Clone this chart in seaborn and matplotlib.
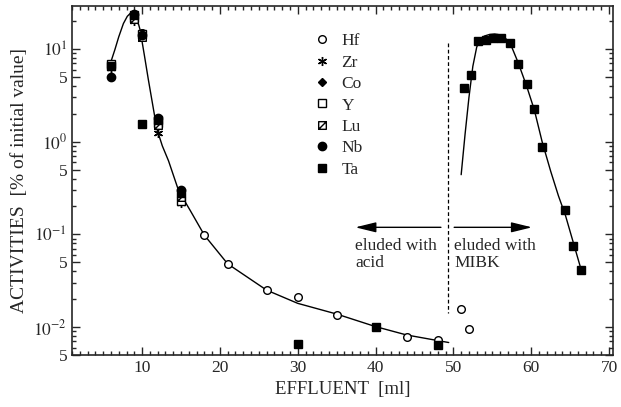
import numpy as np
import pandas as pd
import matplotlib
matplotlib.use("Agg")
import matplotlib.pyplot as plt
from matplotlib.path import Path
from matplotlib.ticker import FixedLocator, MultipleLocator, NullFormatter
import seaborn as sns

# acid fraction (x in ml)
x_acid = [6, 9, 10, 12, 15]
hf = [6.9, 22, 15, 1.6, 0.25]
zr = [6.3, 20, 14, 1.25, 0.22]
co = [6.6, 23, 15, 1.75, 0.29]
y_el = [6.8, 21.5, 14.5, 1.6, 0.23]
lu = [6.5, 21, 13.5, 1.5, 0.25]
nb = [5.0, 24, 14, 1.8, 0.30]
ta = [6.6, 23, 1.55, 1.7, 0.28]

# Hf tail
hf_x2 = [18, 21, 26, 30, 35, 44, 48, 51, 52]
hf_y2 = [0.098, 0.048, 0.025, 0.021, 0.0135, 0.0078, 0.0072, 0.0156, 0.0096]

# Ta tail + MIBK fraction
ta_x2 = [30, 40, 48, 51.3, 52.3, 53.2, 54.2, 55.1, 56.1, 57.3, 58.3, 59.4, 60.4, 61.4, 64.4, 65.4, 66.4]
ta_y2 = [0.0066, 0.0101, 0.0064, 3.75, 5.3, 12.2, 12.4, 13.0, 13.0, 11.7, 6.9, 4.2, 2.24, 0.88, 0.183, 0.074, 0.041]

# curves
curve1_x = [6.0, 6.5, 7.0, 7.6, 8.1, 8.5, 8.9, 9.3, 9.75, 10.3, 10.8, 11.4, 11.9, 12.6, 13.4, 14.7, 16.2, 18, 21, 26, 30, 35, 40, 44, 49.4]
curve1_y = [7.3, 9.8, 13.5, 18.8, 22.5, 24.3, 25.5, 22, 16, 8.5, 4.7, 2.4, 1.37, 0.9, 0.62, 0.295, 0.18, 0.098, 0.048, 0.025, 0.018, 0.0138, 0.0101, 0.0082, 0.0068]
curve2_x = [51.0, 51.5, 52.0, 52.5, 53.0, 53.5, 54.0, 54.6, 55.3, 56.0, 56.7, 57.3, 58.3, 59.4, 60.4, 61.4, 62.5, 63.5, 64.4, 65.4, 66.4]
curve2_y = [0.44, 1.2, 3.0, 6.5, 10.5, 12.8, 13.8, 14.3, 14.5, 14.2, 13.0, 11.5, 7.2, 4.0, 2.2, 1.0, 0.48, 0.26, 0.16, 0.082, 0.042]

ytick_vals = [5e-3, 1e-2, 5e-2, 1e-1, 0.5, 1, 5, 10]
ytick_labels = ['5', '$10^{-2}$', '5', '$10^{-1}$', '5', '$10^{0}$', '5', '$10^{1}$']

sns.set_style("ticks")
plt.rcParams['font.family'] = ['Liberation Serif', 'DejaVu Serif']
plt.rcParams['mathtext.fontset'] = 'stix'

fig = plt.figure(figsize=(6.21, 4.07), dpi=100)
ax = fig.add_axes([0.116, 0.128, 0.871, 0.857])

c1 = pd.DataFrame({'x': curve1_x, 'y': curve1_y})
c2 = pd.DataFrame({'x': curve2_x, 'y': curve2_y})
sns.lineplot(data=c1, x='x', y='y', color='black', lw=1, sort=False, estimator=None, ax=ax)
sns.lineplot(data=c2, x='x', y='y', color='black', lw=1, sort=False, estimator=None, ax=ax)

lu_marker = Path([(-1, -1), (1, -1), (1, 1), (-1, 1), (-1, -1), (-1, -1), (1, 1)],
                 [Path.MOVETO, Path.LINETO, Path.LINETO, Path.LINETO, Path.CLOSEPOLY,
                  Path.MOVETO, Path.LINETO])

kw = dict(ls='none', color='black', mew=1)
ax.plot(x_acid + hf_x2, hf + hf_y2, marker='o', mfc='white', ms=5.5, label='Hf', **kw)
ax.plot(x_acid, zr, marker=(6, 2, 0), ms=6.5, label='Zr', **kw)
ax.plot(x_acid, co, marker='D', mfc='black', ms=4, label='Co', **kw)
ax.plot(x_acid, y_el, marker='s', mfc='white', ms=5.5, label='Y', **kw)
ax.plot(x_acid, lu, marker=lu_marker, mfc='white', ms=5.5, label='Lu', **kw)
ax.plot(x_acid, nb, marker='o', mfc='black', ms=6, label='Nb', **kw)
ax.plot(x_acid + ta_x2, ta + ta_y2, marker='s', mfc='black', ms=6, label='Ta', **kw)

ax.plot([49.3, 49.3], [11.6, 0.014], color='black', ls=(0, (3, 2)), lw=0.9)

arrow = dict(arrowstyle='-|>,head_length=0.9,head_width=0.22', color='black', lw=1, mutation_scale=14, shrinkA=0, shrinkB=0)
ax.annotate('', xy=(37.4, 0.119), xytext=(48.4, 0.119), arrowprops=arrow)
ax.annotate('', xy=(60.1, 0.119), xytext=(50.1, 0.119), arrowprops=arrow)
ax.text(37.4, 0.092, 'eluded with\nacid', ha='left', va='top', fontsize=12.5, linespacing=1.1)
ax.text(50.1, 0.092, 'eluded with\nMIBK', ha='left', va='top', fontsize=12.5, linespacing=1.1)

ax.set_yscale('log')
ax.set_xlim(1, 70.5)
ax.set_ylim(5e-3, 29)
ax.yaxis.set_major_locator(FixedLocator(ytick_vals))
ax.set_yticklabels(ytick_labels)
minor = [m * 10.0 ** e for e in range(-3, 2) for m in range(2, 10) if m != 5]
ax.yaxis.set_minor_locator(FixedLocator(minor))
ax.yaxis.set_minor_formatter(NullFormatter())
ax.xaxis.set_major_locator(MultipleLocator(10))
ax.xaxis.set_minor_locator(MultipleLocator(1))
ax.tick_params(which='both', direction='in', top=True, right=True, labelsize=12.5, width=1)
ax.tick_params(which='major', length=6)
ax.tick_params(which='minor', length=3)
for s in ax.spines.values():
    s.set_linewidth(1.2)

ax.set_xlabel('EFFLUENT  [ml]', fontsize=13.5)
ax.set_ylabel('ACTIVITIES  [% of initial value]', fontsize=14)

ax.legend(loc='upper left', bbox_to_anchor=(0.434, 0.942), frameon=False, fontsize=12.5,
          handlelength=1.0, handletextpad=0.6, labelspacing=0.3, borderaxespad=0)

plt.savefig('out.png', dpi=100)
